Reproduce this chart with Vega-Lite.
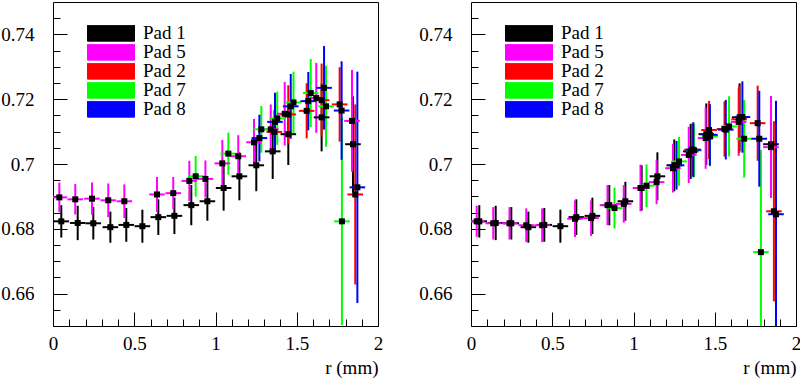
{
  "$schema": "https://vega.github.io/schema/vega-lite/v6.json",
  "padding": {"left": 0, "top": 1, "right": 0, "bottom": 0},
  "background": "white",
  "config": {
    "view": {"stroke": "black", "strokeWidth": 1},
    "axis": {"grid": false, "domain": false, "labelFont": "Liberation Serif", "labelFontSize": 19, "labelColor": "black", "tickColor": "black", "tickWidth": 1, "titleFont": "Liberation Serif", "titleFontSize": 19, "titleFontWeight": "normal", "titleColor": "black", "labelFlush": false, "labelOverlap": false}
  },
  "datasets": {
    "left": [
      {"p":"Pad 1","r":0.051,"v":0.6823,"e":0.0050,"dr":0.048},
      {"p":"Pad 1","r":0.152,"v":0.6818,"e":0.0053,"dr":0.048},
      {"p":"Pad 1","r":0.248,"v":0.6817,"e":0.0050,"dr":0.048},
      {"p":"Pad 1","r":0.353,"v":0.6805,"e":0.0048,"dr":0.048},
      {"p":"Pad 1","r":0.451,"v":0.6812,"e":0.0052,"dr":0.048},
      {"p":"Pad 1","r":0.550,"v":0.6808,"e":0.0051,"dr":0.048},
      {"p":"Pad 1","r":0.648,"v":0.6836,"e":0.0055,"dr":0.048},
      {"p":"Pad 1","r":0.747,"v":0.6840,"e":0.0056,"dr":0.048},
      {"p":"Pad 1","r":0.851,"v":0.6873,"e":0.0062,"dr":0.048},
      {"p":"Pad 1","r":0.950,"v":0.6885,"e":0.0060,"dr":0.048},
      {"p":"Pad 1","r":1.050,"v":0.6926,"e":0.0070,"dr":0.048},
      {"p":"Pad 1","r":1.147,"v":0.6962,"e":0.0074,"dr":0.048},
      {"p":"Pad 1","r":1.251,"v":0.6996,"e":0.0080,"dr":0.048},
      {"p":"Pad 1","r":1.352,"v":0.7039,"e":0.0085,"dr":0.048},
      {"p":"Pad 1","r":1.448,"v":0.7092,"e":0.0095,"dr":0.048},
      {"p":"Pad 1","r":1.653,"v":0.7144,"e":0.0105,"dr":0.048},
      {"p":"Pad 1","r":1.846,"v":0.7061,"e":0.0148,"dr":0.048},
      {"p":"Pad 5","r":0.039,"v":0.6897,"e":0.0046,"dr":0.048},
      {"p":"Pad 5","r":0.137,"v":0.6891,"e":0.0047,"dr":0.048},
      {"p":"Pad 5","r":0.240,"v":0.6893,"e":0.0050,"dr":0.048},
      {"p":"Pad 5","r":0.340,"v":0.6888,"e":0.0052,"dr":0.048},
      {"p":"Pad 5","r":0.439,"v":0.6885,"e":0.0052,"dr":0.048},
      {"p":"Pad 5","r":0.640,"v":0.6906,"e":0.0054,"dr":0.048},
      {"p":"Pad 5","r":0.740,"v":0.6910,"e":0.0050,"dr":0.048},
      {"p":"Pad 5","r":0.839,"v":0.6948,"e":0.0062,"dr":0.048},
      {"p":"Pad 5","r":0.938,"v":0.6954,"e":0.0057,"dr":0.048},
      {"p":"Pad 5","r":1.042,"v":0.7002,"e":0.0072,"dr":0.048},
      {"p":"Pad 5","r":1.140,"v":0.7024,"e":0.0065,"dr":0.048},
      {"p":"Pad 5","r":1.237,"v":0.7067,"e":0.0072,"dr":0.048},
      {"p":"Pad 5","r":1.340,"v":0.7107,"e":0.0077,"dr":0.048},
      {"p":"Pad 5","r":1.426,"v":0.7155,"e":0.0098,"dr":0.048},
      {"p":"Pad 5","r":1.620,"v":0.7204,"e":0.0108,"dr":0.048},
      {"p":"Pad 5","r":1.840,"v":0.7133,"e":0.0157,"dr":0.048},
      {"p":"Pad 2","r":1.362,"v":0.7099,"e":0.0067,"dr":0.048},
      {"p":"Pad 2","r":1.448,"v":0.7153,"e":0.0090,"dr":0.048},
      {"p":"Pad 2","r":1.561,"v":0.7164,"e":0.0085,"dr":0.048},
      {"p":"Pad 2","r":1.653,"v":0.7197,"e":0.0113,"dr":0.048},
      {"p":"Pad 2","r":1.764,"v":0.7184,"e":0.0115,"dr":0.048},
      {"p":"Pad 2","r":1.860,"v":0.6906,"e":0.0278,"dr":0.048},
      {"p":"Pad 7","r":0.878,"v":0.6962,"e":0.0063,"dr":0.048},
      {"p":"Pad 7","r":1.079,"v":0.7032,"e":0.0065,"dr":0.048},
      {"p":"Pad 7","r":1.282,"v":0.7107,"e":0.0072,"dr":0.048},
      {"p":"Pad 7","r":1.380,"v":0.7141,"e":0.0082,"dr":0.048},
      {"p":"Pad 7","r":1.480,"v":0.7190,"e":0.0095,"dr":0.048},
      {"p":"Pad 7","r":1.586,"v":0.7219,"e":0.0105,"dr":0.048},
      {"p":"Pad 7","r":1.680,"v":0.7178,"e":0.0125,"dr":0.048},
      {"p":"Pad 7","r":1.778,"v":0.6823,"e":0.0320,"dr":0.048},
      {"p":"Pad 8","r":1.270,"v":0.7080,"e":0.0072,"dr":0.048},
      {"p":"Pad 8","r":1.366,"v":0.7130,"e":0.0090,"dr":0.048},
      {"p":"Pad 8","r":1.463,"v":0.7178,"e":0.0100,"dr":0.048},
      {"p":"Pad 8","r":1.571,"v":0.7194,"e":0.0090,"dr":0.048},
      {"p":"Pad 8","r":1.668,"v":0.7235,"e":0.0129,"dr":0.048},
      {"p":"Pad 8","r":1.776,"v":0.7165,"e":0.0152,"dr":0.048},
      {"p":"Pad 8","r":1.873,"v":0.6928,"e":0.0357,"dr":0.048}
    ],
    "right": [
      {"p":"Pad 1","r":0.051,"v":0.6823,"e":0.0050,"dr":0.048},
      {"p":"Pad 1","r":0.152,"v":0.6818,"e":0.0053,"dr":0.048},
      {"p":"Pad 1","r":0.248,"v":0.6817,"e":0.0050,"dr":0.048},
      {"p":"Pad 1","r":0.353,"v":0.6805,"e":0.0048,"dr":0.048},
      {"p":"Pad 1","r":0.451,"v":0.6812,"e":0.0052,"dr":0.048},
      {"p":"Pad 1","r":0.550,"v":0.6808,"e":0.0051,"dr":0.048},
      {"p":"Pad 1","r":0.648,"v":0.6836,"e":0.0055,"dr":0.048},
      {"p":"Pad 1","r":0.747,"v":0.6840,"e":0.0056,"dr":0.048},
      {"p":"Pad 1","r":0.851,"v":0.6873,"e":0.0062,"dr":0.048},
      {"p":"Pad 1","r":0.950,"v":0.6885,"e":0.0060,"dr":0.048},
      {"p":"Pad 1","r":1.050,"v":0.6926,"e":0.0070,"dr":0.048},
      {"p":"Pad 1","r":1.147,"v":0.6962,"e":0.0074,"dr":0.048},
      {"p":"Pad 1","r":1.251,"v":0.6996,"e":0.0080,"dr":0.048},
      {"p":"Pad 1","r":1.352,"v":0.7039,"e":0.0085,"dr":0.048},
      {"p":"Pad 1","r":1.448,"v":0.7092,"e":0.0095,"dr":0.048},
      {"p":"Pad 1","r":1.653,"v":0.7144,"e":0.0105,"dr":0.048},
      {"p":"Pad 1","r":1.846,"v":0.7061,"e":0.0148,"dr":0.048},
      {"p":"Pad 5","r":0.035,"v":0.6823,"e":0.0048,"dr":0.048},
      {"p":"Pad 5","r":0.137,"v":0.6817,"e":0.0050,"dr":0.048},
      {"p":"Pad 5","r":0.237,"v":0.6817,"e":0.0050,"dr":0.048},
      {"p":"Pad 5","r":0.340,"v":0.6811,"e":0.0052,"dr":0.048},
      {"p":"Pad 5","r":0.438,"v":0.6811,"e":0.0052,"dr":0.048},
      {"p":"Pad 5","r":0.640,"v":0.6831,"e":0.0056,"dr":0.048},
      {"p":"Pad 5","r":0.739,"v":0.6833,"e":0.0055,"dr":0.048},
      {"p":"Pad 5","r":0.840,"v":0.6873,"e":0.0062,"dr":0.048},
      {"p":"Pad 5","r":0.940,"v":0.6877,"e":0.0058,"dr":0.048},
      {"p":"Pad 5","r":1.043,"v":0.6926,"e":0.0072,"dr":0.048},
      {"p":"Pad 5","r":1.142,"v":0.6944,"e":0.0068,"dr":0.048},
      {"p":"Pad 5","r":1.243,"v":0.6987,"e":0.0075,"dr":0.048},
      {"p":"Pad 5","r":1.340,"v":0.7028,"e":0.0087,"dr":0.048},
      {"p":"Pad 5","r":1.444,"v":0.7080,"e":0.0095,"dr":0.048},
      {"p":"Pad 5","r":1.647,"v":0.7130,"e":0.0105,"dr":0.048},
      {"p":"Pad 5","r":1.846,"v":0.7052,"e":0.0157,"dr":0.048},
      {"p":"Pad 2","r":1.360,"v":0.7044,"e":0.0080,"dr":0.048},
      {"p":"Pad 2","r":1.465,"v":0.7105,"e":0.0090,"dr":0.048},
      {"p":"Pad 2","r":1.560,"v":0.7108,"e":0.0085,"dr":0.048},
      {"p":"Pad 2","r":1.650,"v":0.7138,"e":0.0104,"dr":0.048},
      {"p":"Pad 2","r":1.764,"v":0.7126,"e":0.0116,"dr":0.048},
      {"p":"Pad 2","r":1.864,"v":0.6854,"e":0.0278,"dr":0.048},
      {"p":"Pad 7","r":0.883,"v":0.6864,"e":0.0063,"dr":0.048},
      {"p":"Pad 7","r":1.080,"v":0.6933,"e":0.0066,"dr":0.048},
      {"p":"Pad 7","r":1.280,"v":0.7008,"e":0.0075,"dr":0.048},
      {"p":"Pad 7","r":1.372,"v":0.7042,"e":0.0082,"dr":0.048},
      {"p":"Pad 7","r":1.470,"v":0.7085,"e":0.0092,"dr":0.048},
      {"p":"Pad 7","r":1.588,"v":0.7116,"e":0.0093,"dr":0.048},
      {"p":"Pad 7","r":1.681,"v":0.7078,"e":0.0120,"dr":0.048},
      {"p":"Pad 7","r":1.784,"v":0.6728,"e":0.0315,"dr":0.048},
      {"p":"Pad 8","r":1.265,"v":0.6996,"e":0.0075,"dr":0.048},
      {"p":"Pad 8","r":1.368,"v":0.7044,"e":0.0085,"dr":0.048},
      {"p":"Pad 8","r":1.470,"v":0.7090,"e":0.0095,"dr":0.048},
      {"p":"Pad 8","r":1.568,"v":0.7106,"e":0.0092,"dr":0.048},
      {"p":"Pad 8","r":1.670,"v":0.7145,"e":0.0110,"dr":0.048},
      {"p":"Pad 8","r":1.774,"v":0.7078,"e":0.0148,"dr":0.048},
      {"p":"Pad 8","r":1.877,"v":0.6845,"e":0.0350,"dr":0.048}
    ]
  },
  "spacing": 93,
  "bounds": "flush",
  "resolve": {"legend": {"color": "independent"}},
  "hconcat": [
    {
      "width": 325, "height": 324,
      "data": {"name": "left"},
      "resolve": {"axis": {"x": "independent", "y": "independent"}},
      "layer": [
        {
          "mark": {"type": "errorbar", "thickness": 2, "clip": true},
          "encoding": {
            "x": {"field": "r", "type": "quantitative", "scale": {"domain": [0, 2], "nice": false, "zero": false},
                  "axis": {"orient": "bottom", "values": [0, 0.5, 1, 1.5, 2], "format": "~g", "tickSize": -14, "labelPadding": 22.5, "title": "r (mm)", "titleAnchor": "end", "titlePadding": 5}},
            "y": {"field": "v", "type": "quantitative", "scale": {"domain": [0.65, 0.75], "nice": false, "zero": false, "clamp": true},
                  "axis": {"orient": "left", "values": [0.66, 0.68, 0.70, 0.72, 0.74], "format": ".2~f", "tickSize": -14, "labelPadding": 33, "title": null}},
            "yError": {"field": "e"},
            "color": {"field": "p", "type": "nominal",
                      "scale": {"domain": ["Pad 1", "Pad 5", "Pad 2", "Pad 7", "Pad 8"], "range": ["#000000", "#ff00ff", "#ff0000", "#00ff00", "#0000ff"]},
                      "legend": {"orient": "none", "legendX": 34, "legendY": 23, "title": null, "padding": 0,
                                 "symbolType": "M-1,-0.34H1V0.34H-1Z", "symbolSize": 2209, "symbolStrokeWidth": 1, "symbolStrokeColor": "black",
                                 "labelFont": "Liberation Serif", "labelFontSize": 19, "labelColor": "black", "labelOffset": 8, "rowPadding": -3.7, "clipHeight": 16.3,
                                 "encode": {"symbols": {"update": {"fill": {"scale": "color", "field": "value"}, "stroke": {"value": "black"}, "fillOpacity": {"value": 1}, "opacity": {"value": 1}}}}}}
          }
        },
        {
          "mark": {"type": "errorbar", "thickness": 2, "clip": true},
          "encoding": {
            "x": {"field": "r", "type": "quantitative", "axis": null},
            "xError": {"field": "dr"},
            "y": {"field": "v", "type": "quantitative", "axis": null},
            "color": {"field": "p", "type": "nominal"}
          }
        },
        {
          "mark": {"type": "square", "size": 36, "color": "black", "opacity": 1, "clip": true},
          "encoding": {
            "x": {"field": "r", "type": "quantitative", "axis": {"orient": "bottom", "values": [0.1,0.2,0.3,0.4,0.6,0.7,0.8,0.9,1.1,1.2,1.3,1.4,1.6,1.7,1.8,1.9], "tickSize": -7, "labels": false, "title": null}},
            "y": {"field": "v", "type": "quantitative", "axis": {"orient": "left", "values": [0.655,0.665,0.67,0.675,0.685,0.69,0.695,0.705,0.71,0.715,0.725,0.73,0.735,0.745], "tickSize": -7, "labels": false, "title": null}}
          }
        }
      ]
    },
    {
      "width": 325, "height": 324,
      "data": {"name": "right"},
      "resolve": {"axis": {"x": "independent", "y": "independent"}},
      "layer": [
        {
          "mark": {"type": "errorbar", "thickness": 2, "clip": true},
          "encoding": {
            "x": {"field": "r", "type": "quantitative", "scale": {"domain": [0, 2], "nice": false, "zero": false},
                  "axis": {"orient": "bottom", "values": [0, 0.5, 1, 1.5, 2], "format": "~g", "tickSize": -14, "labelPadding": 22.5, "title": "r (mm)", "titleAnchor": "end", "titlePadding": 5}},
            "y": {"field": "v", "type": "quantitative", "scale": {"domain": [0.65, 0.75], "nice": false, "zero": false, "clamp": true},
                  "axis": {"orient": "left", "values": [0.66, 0.68, 0.70, 0.72, 0.74], "format": ".2~f", "tickSize": -14, "labelPadding": 33, "title": null}},
            "yError": {"field": "e"},
            "color": {"field": "p", "type": "nominal",
                      "scale": {"domain": ["Pad 1", "Pad 5", "Pad 2", "Pad 7", "Pad 8"], "range": ["#000000", "#ff00ff", "#ff0000", "#00ff00", "#0000ff"]},
                      "legend": {"orient": "none", "legendX": 34, "legendY": 23, "title": null, "padding": 0,
                                 "symbolType": "M-1,-0.34H1V0.34H-1Z", "symbolSize": 2209, "symbolStrokeWidth": 1, "symbolStrokeColor": "black",
                                 "labelFont": "Liberation Serif", "labelFontSize": 19, "labelColor": "black", "labelOffset": 8, "rowPadding": -3.7, "clipHeight": 16.3,
                                 "encode": {"symbols": {"update": {"fill": {"scale": "color", "field": "value"}, "stroke": {"value": "black"}, "fillOpacity": {"value": 1}, "opacity": {"value": 1}}}}}}
          }
        },
        {
          "mark": {"type": "errorbar", "thickness": 2, "clip": true},
          "encoding": {
            "x": {"field": "r", "type": "quantitative", "axis": null},
            "xError": {"field": "dr"},
            "y": {"field": "v", "type": "quantitative", "axis": null},
            "color": {"field": "p", "type": "nominal"}
          }
        },
        {
          "mark": {"type": "square", "size": 36, "color": "black", "opacity": 1, "clip": true},
          "encoding": {
            "x": {"field": "r", "type": "quantitative", "axis": {"orient": "bottom", "values": [0.1,0.2,0.3,0.4,0.6,0.7,0.8,0.9,1.1,1.2,1.3,1.4,1.6,1.7,1.8,1.9], "tickSize": -7, "labels": false, "title": null}},
            "y": {"field": "v", "type": "quantitative", "axis": {"orient": "left", "values": [0.655,0.665,0.67,0.675,0.685,0.69,0.695,0.705,0.71,0.715,0.725,0.73,0.735,0.745], "tickSize": -7, "labels": false, "title": null}}
          }
        }
      ]
    }
  ]
}
